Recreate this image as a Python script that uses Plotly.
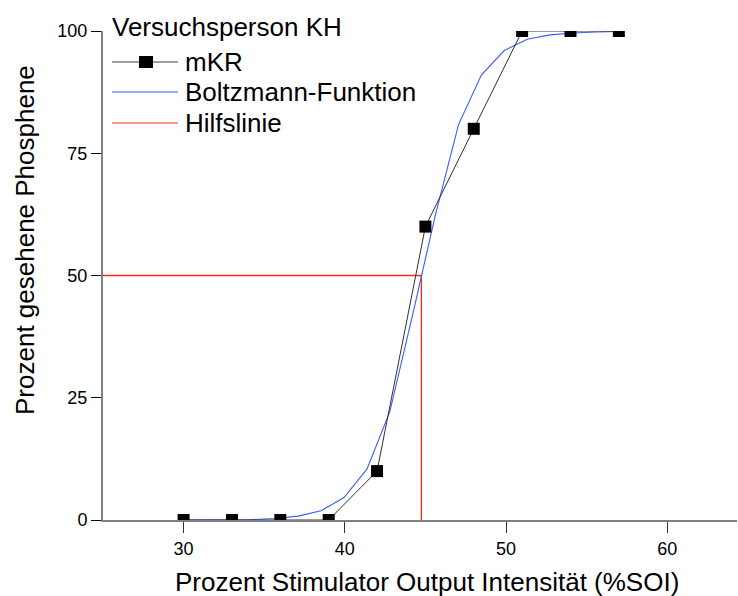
import plotly.graph_objects as go

# ---- data ----
mkr_x = [30, 33, 36, 39, 42, 45, 48, 51, 54, 57]
mkr_y = [0, 0, 0, 0, 10, 60, 80, 100, 100, 100]

boltz_x = [30.00, 31.42, 32.84, 34.26, 35.68, 37.11, 38.53, 39.95, 41.37, 42.79,
           44.21, 45.63, 47.05, 48.47, 49.89, 51.32, 52.74, 54.16, 55.58, 57.00]
boltz_y = [0.0, 0.0, 0.1, 0.1, 0.3, 0.8, 1.9, 4.6, 10.4, 22.1,
           42.0, 62.5, 80.8, 91.0, 96.0, 98.3, 99.2, 99.6, 99.8, 99.9]

hilf_x = [25, 44.75, 44.75]
hilf_y = [50, 50, 0]

x_ticks = [30, 40, 50, 60]
y_ticks = [0, 25, 50, 75, 100]

legend_title = "Versuchsperson KH"
legend_names = ["mKR", "Boltzmann-Funktion", "Hilfslinie"]
x_title = "Prozent Stimulator Output Intensität (%SOI)"
y_title = "Prozent gesehene Phosphene"

# ---- layout geometry (pixels) ----
W, H = 738, 596
L, R, T, B = 103, 1, 31, 76
PW, PH = W - L - R, H - T - B
FONT = "Liberation Sans, Arial, sans-serif"
BIG = 26

def px(x):
    return (x - L) / PW

def py(y):
    return (H - B - y) / PH

BLACK = "#000000"
BLUE = "#3a5cff"
RED = "#ff2a10"

fig = go.Figure()
fig.add_trace(go.Scatter(x=hilf_x, y=hilf_y, mode="lines",
                         line=dict(color=RED, width=1.3), name=legend_names[2]))
fig.add_trace(go.Scatter(x=boltz_x, y=boltz_y, mode="lines",
                         line=dict(color=BLUE, width=1.1), name=legend_names[1]))
fig.add_trace(go.Scatter(x=mkr_x, y=mkr_y, mode="lines+markers",
                         line=dict(color="#303030", width=1),
                         marker=dict(symbol="square", size=12, color=BLACK),
                         name=legend_names[0]))

shapes = []
annotations = []

# manual legend
annotations.append(dict(text=legend_title, x=px(110), y=py(27), xref="paper", yref="paper",
                        xanchor="left", yanchor="middle", showarrow=False,
                        font=dict(family=FONT, size=BIG, color=BLACK)))
rows = [62, 92, 123]
cols = ["#404040", BLUE, RED]
for name, yy, c in zip(legend_names, rows, cols):
    shapes.append(dict(type="line", xref="paper", yref="paper",
                       x0=px(112), x1=px(178), y0=py(yy), y1=py(yy),
                       line=dict(color=c, width=1.2)))
    annotations.append(dict(text=name, x=px(183), y=py(yy), xref="paper", yref="paper",
                            xanchor="left", yanchor="middle", showarrow=False,
                            font=dict(family=FONT, size=BIG, color=BLACK)))
shapes.append(dict(type="rect", xref="paper", yref="paper",
                   x0=px(139), x1=px(153), y0=py(56), y1=py(68),
                   fillcolor=BLACK, line=dict(width=0)))

# axis titles
annotations.append(dict(text=x_title, x=px(427), y=py(582), xref="paper", yref="paper",
                        xanchor="center", yanchor="middle", showarrow=False,
                        font=dict(family=FONT, size=BIG, color=BLACK)))
annotations.append(dict(text=y_title, x=px(25), y=py(240), xref="paper", yref="paper",
                        xanchor="center", yanchor="middle", showarrow=False, textangle=-90,
                        font=dict(family=FONT, size=BIG, color=BLACK)))

fig.update_layout(
    width=W, height=H,
    margin=dict(l=L, r=R, t=T, b=B, pad=0),
    paper_bgcolor="white", plot_bgcolor="white",
    showlegend=False,
    shapes=shapes, annotations=annotations,
    font=dict(family=FONT, size=18, color=BLACK),
    xaxis=dict(range=[25, 64.33], tickvals=x_ticks, ticks="outside", ticklen=11,
               tickcolor="#333333", tickwidth=1, showline=True, linecolor="#808080",
               linewidth=2, showgrid=False, zeroline=False,
               tickfont=dict(family=FONT, size=18, color=BLACK)),
    yaxis=dict(range=[0, 100], tickvals=y_ticks, ticks="outside", ticklen=10,
               tickcolor="#000000", tickwidth=1, showline=True, linecolor="#808080",
               linewidth=2, showgrid=False, zeroline=False,
               tickfont=dict(family=FONT, size=18, color=BLACK)),
)

fig.write_html("out.html")
